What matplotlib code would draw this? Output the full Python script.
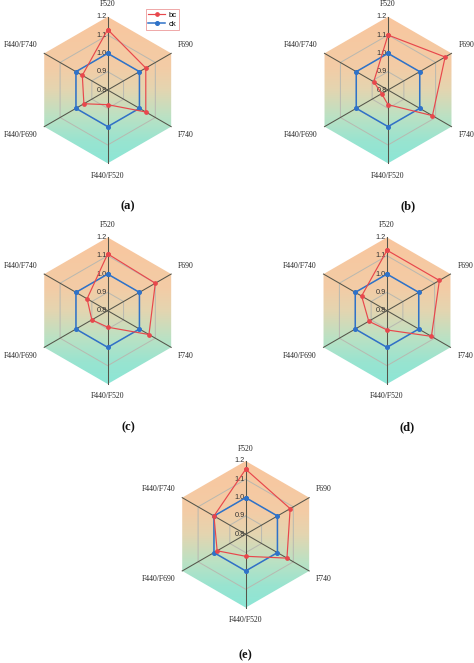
import numpy as np
import matplotlib
matplotlib.use("Agg")
import matplotlib.pyplot as plt
from matplotlib.patches import Polygon

# ---------------- data ----------------
categories = ["F520", "F690", "F740", "F440/F520", "F440/F690", "F440/F740"]
panel_labels = ["(a)", "(b)", "(c)", "(d)", "(e)"]
tick_values = [0.8, 0.9, 1.0, 1.1, 1.2]
tick_labels = ["0.8", "0.9", "1.0", "1.1", "1.2"]
series_names = ["bc", "ck"]

ck = [1.0, 1.0, 1.0, 1.0, 1.0, 1.0]
bc_a = [1.13, 1.04, 1.04, 0.88, 0.95, 0.96]
bc_b = [1.10, 1.16, 1.08, 0.88, 0.84, 0.89]
bc_c = [1.11, 1.10, 1.06, 0.89, 0.90, 0.93]
bc_d = [1.13, 1.13, 1.08, 0.905, 0.915, 0.96]
bc_e = [1.155, 1.08, 1.06, 0.92, 0.98, 1.00]
bc_all = [bc_a, bc_b, bc_c, bc_d, bc_e]

VMIN, VMAX = 0.8, 1.2

# ---------------- style / layout ----------------
W, H = 474, 663
RED = "#E8474C"
BLUE = "#2F72C8"
SPOKE = "#55554A"
GRID = "#B8B8B0"
SERIF = ["Liberation Serif", "DejaVu Serif"]
SANS = ["Liberation Sans", "DejaVu Sans"]

# panel centres in pixels (x, y from top-left), radius in pixels
centers = [(107.7, 90.0), (388.0, 90.0), (107.7, 310.7), (387.0, 310.7), (245.7, 534.3)]
RPX = 73.3
LIM = 1.05
label_offsets = [(0.277, -1.59)] * 4 + [(0.0, -1.65)]

grad_stops = [
    (0.00, (249, 198, 158)),
    (0.35, (243, 204, 166)),
    (0.50, (228, 213, 176)),
    (0.68, (188, 225, 195)),
    (0.85, (153, 228, 208)),
    (1.00, (140, 230, 214)),
]

fig = plt.figure(figsize=(W / 100, H / 100), dpi=100)
fig.patch.set_facecolor("white")

n = len(categories)
angles = np.deg2rad(90 - 60 * np.arange(n))


def to_xy(vals):
    r = (np.asarray(vals, dtype=float) - VMIN) / (VMAX - VMIN)
    x = r * np.cos(angles)
    y = r * np.sin(angles)
    return np.append(x, x[0]), np.append(y, y[0])


# gradient array
ts = np.linspace(0, 1, 300)
sp = np.array([s[0] for s in grad_stops])
cols = np.array([s[1] for s in grad_stops], dtype=float) / 255.0
grad = np.stack([np.interp(ts, sp, cols[:, k]) for k in range(3)], axis=-1)[:, None, :]

for i, (cx, cy) in enumerate(centers):
    size = 2 * RPX * LIM
    ax = fig.add_axes([(cx - RPX * LIM) / W, 1 - (cy + RPX * LIM) / H, size / W, size / H])
    ax.set_xlim(-LIM, LIM)
    ax.set_ylim(-LIM, LIM)
    ax.axis("off")

    # gradient background clipped to hexagon
    ox, oy = to_xy([VMAX] * n)
    hexpatch = Polygon(np.column_stack([ox[:-1], oy[:-1]]), closed=True,
                       facecolor="none", edgecolor="none", transform=ax.transData)
    ax.add_patch(hexpatch)
    im = ax.imshow(grad, extent=[-0.9, 0.9, -1.0, 1.0], aspect="auto",
                   origin="upper", zorder=0, interpolation="bilinear")
    im.set_clip_path(hexpatch)

    # grid rings
    for tv in tick_values[1:-1]:
        gx, gy = to_xy([tv] * n)
        ax.plot(gx, gy, color=GRID, lw=0.7, zorder=1)

    # spokes
    for a in angles:
        ax.plot([0, np.cos(a)], [0, np.sin(a)], color=SPOKE, lw=0.75, zorder=2)

    # tick labels along the top spoke
    for tv, tl in zip(tick_values, tick_labels):
        r = (tv - VMIN) / (VMAX - VMIN)
        ax.text(-0.015, r, tl, ha="right", va="center", fontsize=5.3,
                family=SANS, color="#333333", zorder=3)

    # series
    cx_, cy_ = to_xy(ck)
    ax.plot(cx_, cy_, color=BLUE, lw=1.1, marker="o", ms=2.6, zorder=4, label=series_names[1])
    bx, by = to_xy(bc_all[i])
    ax.plot(bx, by, color=RED, lw=0.85, marker="o", ms=2.4, zorder=5, label=series_names[0])

    # category labels
    for a, lab in zip(angles, categories):
        c, s = np.cos(a), np.sin(a)
        if abs(c) < 0.1:
            lx, ly, ha = 0.0, 1.17 * np.sign(s), "center"
        else:
            lx, ly, ha = 1.11 * c, 1.23 * s, ("left" if c > 0 else "right")
        ax.text(lx, ly, lab, ha=ha, va="center", fontsize=5.5, family=SERIF,
                color="#222222", clip_on=False)

    # panel label
    ox_, oy_ = label_offsets[i]
    ax.text(ox_, oy_, panel_labels[i], ha="center", va="center", fontsize=9,
            family=SERIF, fontweight="bold", color="#111111", clip_on=False)

    if i == 0:
        handles, labels = ax.get_legend_handles_labels()
        order = [labels.index("bc"), labels.index("ck")]
        leg = ax.legend([handles[k] for k in order], [labels[k] for k in order],
                        loc="upper left", bbox_to_anchor=(146 / W, 1 - 9 / H),
                        bbox_transform=fig.transFigure,
                        prop={"family": SANS, "size": 5.5},
                        frameon=True, fancybox=False, borderpad=0.3,
                        handlelength=2.2, handletextpad=0.4, labelspacing=0.2,
                        borderaxespad=0.0)
        leg.get_frame().set_edgecolor("#E88080")
        leg.get_frame().set_linewidth(0.6)

fig.savefig("out.png", dpi=100, facecolor="white")
